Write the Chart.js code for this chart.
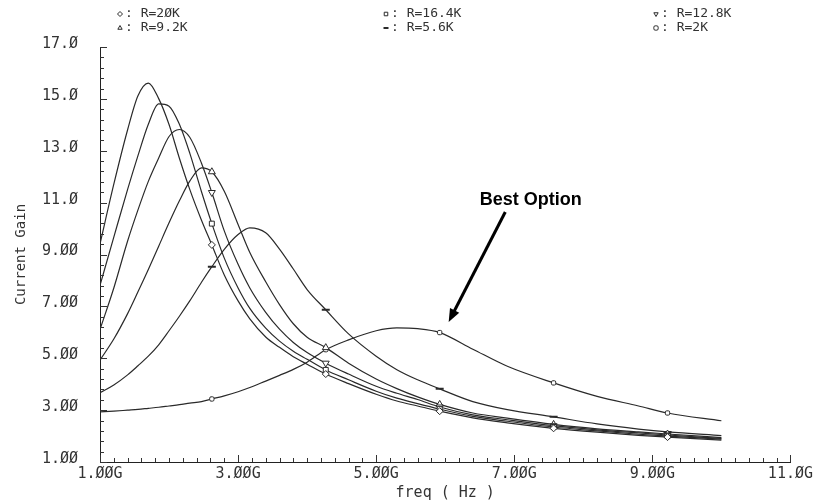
<!DOCTYPE html>
<html>
<head>
<meta charset="utf-8">
<script src="https://cdn.jsdelivr.net/npm/chart.js@4"></script>
<style>
  html, body { margin: 0; padding: 0; background: #fff; }
</style>
</head>
<body>
<canvas id="chartGain" width="816" height="504"></canvas>
<script>
// frequencia em GHz (mesma para todas as curvas)
const freqGHz = [1.0, 1.2, 1.4, 1.55, 1.7, 1.85, 2.0, 2.15, 2.3, 2.47, 2.62, 2.8, 3.0, 3.17, 3.4, 3.6, 3.8, 4.0, 4.27, 4.6, 5.0, 5.3, 5.6, 5.92, 6.4, 6.9, 7.57, 8.2, 8.8, 9.22, 10.0];
// onde aparecem os marcadores
const markerFreqs = [2.62, 4.27, 5.92, 7.57, 9.22];

const gainR20K  = [9.41, 11.71, 13.81, 15.12, 15.61, 15.01, 14.01, 12.71, 11.51, 10.32, 9.37, 8.21, 7.21, 6.52, 5.82, 5.42, 5.06, 4.77, 4.39, 4.02, 3.61, 3.35, 3.16, 2.96, 2.70, 2.51, 2.30, 2.15, 2.03, 1.96, 1.84];
const gainR16K4 = [7.81, 9.67, 11.51, 12.81, 14.02, 14.81, 14.72, 14.02, 12.91, 11.42, 10.19, 8.86, 7.71, 6.92, 6.16, 5.66, 5.27, 4.96, 4.55, 4.17, 3.73, 3.46, 3.25, 3.04, 2.76, 2.57, 2.35, 2.20, 2.07, 2.00, 1.88];
const gainR12K8 = [6.11, 7.71, 9.52, 10.72, 11.82, 12.72, 13.55, 13.82, 13.52, 12.52, 11.39, 9.91, 8.62, 7.71, 6.77, 6.12, 5.61, 5.22, 4.81, 4.39, 3.92, 3.65, 3.41, 3.12, 2.82, 2.63, 2.40, 2.24, 2.12, 2.04, 1.91];
const gainR9K2  = [4.93, 5.74, 6.72, 7.56, 8.42, 9.32, 10.22, 11.07, 11.83, 12.34, 12.19, 11.44, 10.16, 9.08, 7.95, 7.07, 6.33, 5.81, 5.41, 4.81, 4.20, 3.83, 3.51, 3.22, 2.89, 2.69, 2.45, 2.28, 2.16, 2.08, 1.94];
const gainR5K6  = [3.67, 3.97, 4.36, 4.71, 5.08, 5.52, 6.06, 6.62, 7.21, 7.93, 8.53, 9.20, 9.77, 10.03, 9.84, 9.21, 8.44, 7.65, 6.87, 5.94, 5.08, 4.56, 4.17, 3.82, 3.33, 3.02, 2.74, 2.47, 2.27, 2.16, 2.02];
const gainR2K   = [2.93, 2.96, 3.00, 3.03, 3.07, 3.11, 3.16, 3.21, 3.27, 3.33, 3.43, 3.55, 3.71, 3.87, 4.12, 4.34, 4.57, 4.85, 5.33, 5.71, 6.06, 6.17, 6.14, 5.99, 5.35, 4.69, 4.05, 3.53, 3.16, 2.89, 2.59];

const seriesLabels = ['R=2ØK', 'R=16.4K', 'R=12.8K', 'R=9.2K', 'R=5.6K', 'R=2K'];
const seriesGains = [gainR20K, gainR16K4, gainR12K8, gainR9K2, gainR5K6, gainR2K];
const seriesMarkers = [
    { pointStyle: 'rectRot', radius: 3.5, rotation: 0 },
    { pointStyle: 'rect', radius: 3.5, rotation: 0 },
    { pointStyle: 'triangle', radius: 4, rotation: 180 },
    { pointStyle: 'triangle', radius: 4, rotation: 0 },
    { pointStyle: 'line', radius: 4, rotation: 0 },
    { pointStyle: 'rectRounded', radius: 2.5, rotation: 0 }
];

const xTickValues = [1, 3, 5, 7, 9, 11];
const xTickText = ['1.ØØG', '3.ØØG', '5.ØØG', '7.ØØG', '9.ØØG', '11.ØG'];
const yTickValues = [1, 3, 5, 7, 9, 11, 13, 15, 17];
const yTickText = ['1.ØØ', '3.ØØ', '5.ØØ', '7.ØØ', '9.ØØ', '11.Ø', '13.Ø', '15.Ø', '17.Ø'];

const corLinha = '#2a2a2a';
const fonteMono = 'DejaVu Sans Mono';

let datasets = seriesGains.map((gains, i) => ({
    label: seriesLabels[i],
    data: freqGHz.map((f, j) => ({ x: f, y: gains[j] })),
    borderColor: corLinha,
    borderWidth: 1.2,
    backgroundColor: '#fff',
    cubicInterpolationMode: 'monotone',
    pointStyle: seriesMarkers[i].pointStyle,
    rotation: seriesMarkers[i].rotation,
    pointBorderColor: corLinha,
    pointBackgroundColor: '#fff',
    pointBorderWidth: seriesMarkers[i].pointStyle == 'line' ? 2 : 1,
    pointRadius: c => markerFreqs.includes(freqGHz[c.dataIndex]) ? seriesMarkers[i].radius : 0
}));

// ticks pequenos para dentro do grafico
const ticksInternos = {
    id: 'ticksInternos',
    afterDraw(chart) {
        const { ctx, chartArea, scales: { x, y } } = chart;
        ctx.save();
        ctx.strokeStyle = '#333';
        ctx.lineWidth = 1;
        ctx.beginPath();
        for (let i = 0; i <= 50; i++) {
            let px = Math.round(x.getPixelForValue(1 + i * 0.2)) + 0.5;
            let len = i % 10 == 0 ? 7 : 4;
            ctx.moveTo(px, chartArea.bottom);
            ctx.lineTo(px, chartArea.bottom - len);
        }
        for (let i = 0; i <= 40; i++) {
            let py = Math.round(y.getPixelForValue(1 + i * 0.4)) + 0.5;
            let len = i % 5 == 0 ? 7 : 4;
            ctx.moveTo(chartArea.left, py);
            ctx.lineTo(chartArea.left + len, py);
        }
        ctx.stroke();
        ctx.restore();
    }
};

// legenda em cima no formato "simbolo: R=..."
const legendaTexto = {
    id: 'legendaTexto',
    afterDraw(chart) {
        const ctx = chart.ctx;
        const colunas = [117, 383, 653];
        const linhas = [14, 28];
        ctx.save();
        ctx.font = `13px "${fonteMono}"`;
        ctx.textBaseline = 'middle';
        chart.data.datasets.forEach((ds, i) => {
            let x = colunas[i % 3];
            let y = linhas[Math.floor(i / 3)];
            let m = seriesMarkers[i];
            ctx.strokeStyle = corLinha;
            ctx.fillStyle = '#fff';
            ctx.lineWidth = m.pointStyle == 'line' ? 2 : 1;
            Chart.helpers.drawPoint(ctx, { pointStyle: m.pointStyle, rotation: m.rotation, radius: 2.5, borderWidth: 1 }, x + 3, y);
            ctx.fillStyle = '#333';
            ctx.fillText(': ' + ds.label, x + 8, y);
        });
        ctx.restore();
    }
};

// texto "Best Option" e a seta
const melhorOpcao = {
    id: 'melhorOpcao',
    afterDraw(chart) {
        const { ctx, scales: { x, y } } = chart;
        ctx.save();
        ctx.font = 'bold 18px "Liberation Sans"';
        ctx.fillStyle = '#000';
        ctx.textBaseline = 'middle';
        ctx.fillText('Best Option', x.getPixelForValue(6.5), y.getPixelForValue(11.1));

        let x0 = x.getPixelForValue(6.87), y0 = y.getPixelForValue(10.64);
        let x1 = x.getPixelForValue(6.05), y1 = y.getPixelForValue(6.4);
        let ang = Math.atan2(y1 - y0, x1 - x0);
        let head = 14;
        ctx.strokeStyle = '#000';
        ctx.lineWidth = 3;
        ctx.beginPath();
        ctx.moveTo(x0, y0);
        ctx.lineTo(x1 - Math.cos(ang) * head * 0.8, y1 - Math.sin(ang) * head * 0.8);
        ctx.stroke();
        ctx.beginPath();
        ctx.moveTo(x1, y1);
        ctx.lineTo(x1 - head * Math.cos(ang - 0.38), y1 - head * Math.sin(ang - 0.38));
        ctx.lineTo(x1 - head * Math.cos(ang + 0.38), y1 - head * Math.sin(ang + 0.38));
        ctx.closePath();
        ctx.fill();
        ctx.restore();
    }
};

var ctx = document.getElementById('chartGain').getContext('2d');
var gainChart = new Chart(ctx, {
    type: 'line',
    data: { datasets: datasets },
    options: {
        responsive: false,
        animation: false,
        layout: { padding: { top: 47, right: 21, left: 0, bottom: 0 } },
        plugins: {
            legend: { display: false },
            tooltip: { enabled: false }
        },
        scales: {
            x: {
                type: 'linear',
                min: 1,
                max: 11,
                afterFit: s => { s.height = 42; },
                afterBuildTicks: s => { s.ticks = xTickValues.map(v => ({ value: v })); },
                ticks: {
                    autoSkip: false,
                    maxRotation: 0,
                    padding: 3,
                    color: '#333',
                    font: { family: fonteMono, size: 15 },
                    callback: v => xTickText[xTickValues.indexOf(v)]
                },
                grid: { display: false, drawTicks: false },
                border: { display: true, color: '#222', width: 1 },
                title: {
                    display: true,
                    text: 'freq ( Hz )',
                    color: '#333',
                    font: { family: fonteMono, size: 15 },
                    padding: { top: 0, bottom: 2 }
                }
            },
            y: {
                min: 1,
                max: 17,
                afterFit: s => { s.width = 100; },
                afterBuildTicks: s => { s.ticks = yTickValues.map(v => ({ value: v })); },
                ticks: {
                    padding: 22,
                    labelOffset: -3,
                    color: '#333',
                    font: { family: fonteMono, size: 15 },
                    callback: v => yTickText[yTickValues.indexOf(v)]
                },
                grid: { display: false, drawTicks: false },
                border: { display: true, color: '#222', width: 1 },
                title: {
                    display: true,
                    text: 'Current Gain',
                    color: '#333',
                    font: { family: fonteMono, size: 14 },
                    padding: { top: 13, bottom: 0 }
                }
            }
        }
    },
    plugins: [ticksInternos, legendaTexto, melhorOpcao]
});
</script>
</body>
</html>
